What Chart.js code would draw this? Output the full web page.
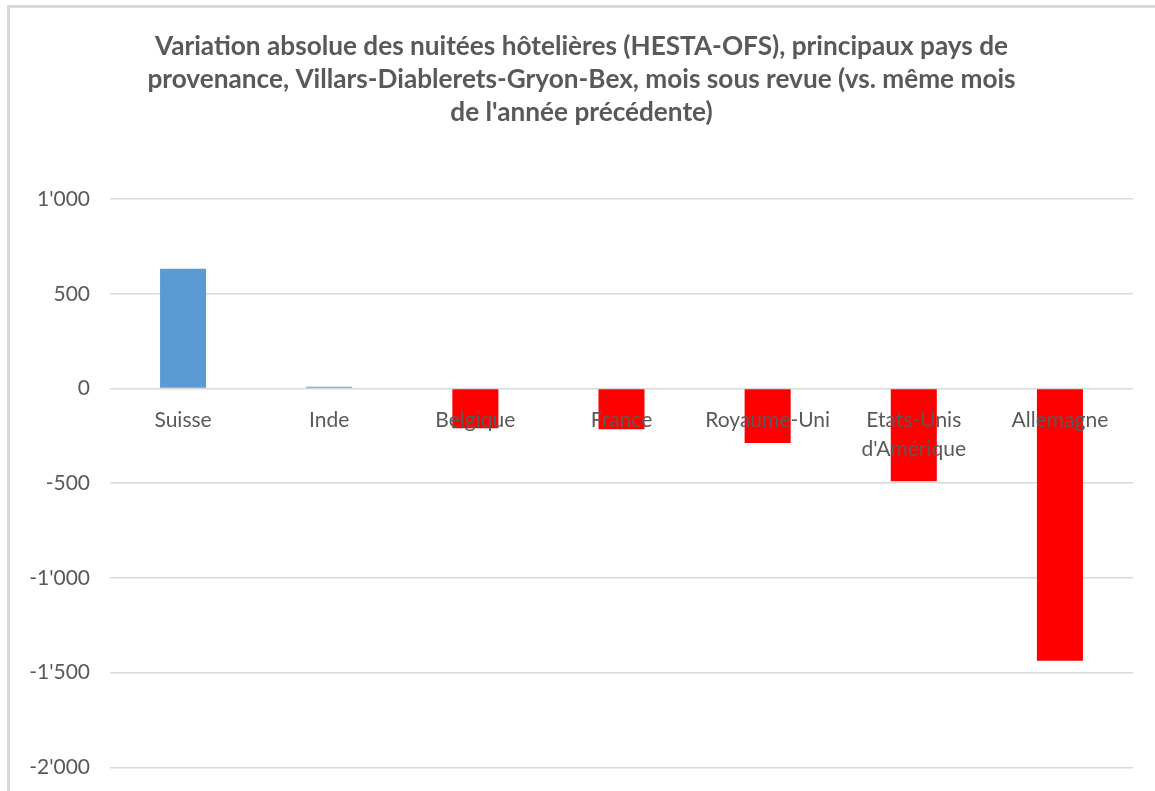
<!DOCTYPE html>
<html>
<head>
<meta charset="utf-8">
<script src="https://cdn.jsdelivr.net/npm/chart.js@4"></script>
<style>
  html, body { margin: 0; padding: 0; background: #fff; }
  #wrap { position: relative; width: 1155px; height: 791px; overflow: hidden; }
  #frame {
    position: absolute; left: 7px; top: 5px; width: 1200px; height: 900px;
    border-left: 3px solid #d9d9d9; border-top: 3px solid #d9d9d9;
  }
  #chart { position: absolute; left: 0; top: 0; }
</style>
</head>
<body>
<div id="wrap">
  <div id="frame"></div>
  <!-- canvas a bit taller than the window: the reference is cropped just under -2'000 -->
  <canvas id="chart" width="1155" height="800"></canvas>
</div>
<script>
// ── Nuitées hôtelières : variation absolue par pays ──

const titleLines = [
  'Variation absolue des nuitées hôtelières (HESTA-OFS), principaux pays de',
  'provenance, Villars-Diablerets-Gryon-Bex, mois sous revue (vs. même mois',
  "de l'année précédente)"
];

const countries = ['Suisse', 'Inde', 'Belgique', 'France', 'Royaume-Uni', ['Etats-Unis', "d'Amérique"], 'Allemagne'];
const variations = [632, 9, -210, -215, -288, -490, -1437];

const yMin = -2000;
const yMax = 1000;
const yStep = 500;

const textColor = '#595959';
const gridColor = '#d9d9d9';
const posColor = '#5b9bd5';
const negColor = '#ff0000';

const fmt = v => {
  const s = Math.abs(v).toString().replace(/\B(?=(\d{3})+(?!\d))/g, "'");
  return (v < 0 ? '-' : '') + s;
};

const ctx = document.getElementById('chart').getContext('2d');

new Chart(ctx, {
  type: 'bar',
  data: {
    labels: countries,
    datasets: [{
      data: variations,
      backgroundColor: variations.map(v => v < 0 ? negColor : posColor),
      borderWidth: 0,
      categoryPercentage: 1,
      barPercentage: 0.315
    }]
  },
  options: {
    responsive: false,
    animation: false,
    layout: { padding: { left: 30, right: 22, top: 5, bottom: 11 } },
    plugins: {
      legend: { display: false },
      tooltip: { enabled: false },
      title: {
        display: true,
        text: titleLines,
        color: textColor,
        font: { family: 'Lato', size: 26.2, weight: 'bold', lineHeight: 1.26 },
        padding: { top: 25, bottom: 70 }
      }
    },
    scales: {
      x: {
        // labels sit just under the zero line, drawn over the bars
        position: { y: 0 },
        grid: { display: false, drawTicks: false },
        border: { display: false },
        ticks: {
          z: 1,
          color: textColor,
          font: { family: 'Lato', size: 21, lineHeight: 1.4 },
          padding: 17,
          maxRotation: 0,
          autoSkip: false
        }
      },
      y: {
        min: yMin,
        max: yMax,
        afterFit: scale => { scale.width = 80; },
        grid: { color: gridColor, lineWidth: 1.5, drawTicks: false },
        border: { display: false },
        ticks: {
          stepSize: yStep,
          color: textColor,
          font: { family: 'Lato', size: 21 },
          padding: 20,
          callback: v => fmt(v)
        }
      }
    }
  }
});
</script>
</body>
</html>
